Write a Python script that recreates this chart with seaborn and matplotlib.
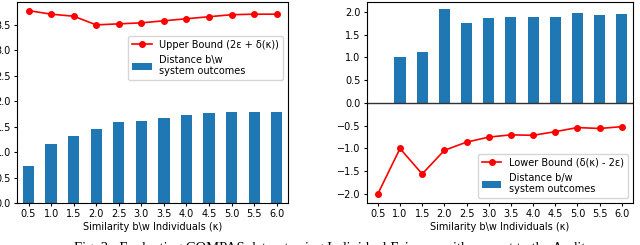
import pandas as pd
import seaborn as sns
import matplotlib.pyplot as plt

kappa = ["0.5", "1.0", "1.5", "2.0", "2.5", "3.0", "3.5", "4.0", "4.5", "5.0", "5.5", "6.0"]

# left panel: upper bound vs distance
upper_bound = [3.78, 3.71, 3.67, 3.50, 3.52, 3.54, 3.58, 3.62, 3.66, 3.70, 3.71, 3.71]
dist_left = [0.73, 1.16, 1.32, 1.45, 1.60, 1.61, 1.68, 1.73, 1.77, 1.78, 1.78, 1.79]

# right panel: lower bound vs distance
lower_bound = [-2.0, -1.0, -1.56, -1.04, -0.86, -0.75, -0.70, -0.71, -0.63, -0.54, -0.56, -0.52]
dist_right = [0.0, 1.00, 1.12, 2.06, 1.75, 1.86, 1.89, 1.88, 1.90, 1.97, 1.94, 1.96]

df_left = pd.DataFrame({"kappa": kappa, "bound": upper_bound, "dist": dist_left})
df_right = pd.DataFrame({"kappa": kappa, "bound": lower_bound, "dist": dist_right})

plt.rcParams["font.size"] = 7
fig = plt.figure(figsize=(6.4, 2.45), dpi=100)
ax1 = fig.add_axes([0.027, 0.171, 0.423, 0.821])
ax2 = fig.add_axes([0.573, 0.171, 0.416, 0.821])

blue = "#1f77b4"


def panel(ax, df, line_label, bar_label, legend_kw):
    sns.barplot(data=df, x="kappa", y="dist", color=blue, saturation=1, width=0.5,
                label=bar_label, ax=ax)
    ax.plot(range(len(df)), df["bound"], color="red", marker="o", markersize=4,
            linewidth=1.2, label=line_label)
    ax.set_xlim(-0.5, len(df) - 0.5)
    ax.set_xlabel("Similarity b\\w Individuals (κ)", fontsize=7, labelpad=2)
    ax.set_ylabel("")
    ax.tick_params(labelsize=7, length=2.5, pad=2)
    h, l = ax.get_legend_handles_labels()
    order = [l.index(line_label), l.index(bar_label)]
    ax.legend([h[i] for i in order], [l[i] for i in order], fontsize=7, **legend_kw)


panel(ax1, df_left, "Upper Bound (2ε + δ(κ))", "Distance b\\w\nsystem outcomes",
      dict(loc="upper right", bbox_to_anchor=(1.0, 0.855)))
ax1.set_ylim(0, 3.95)

panel(ax2, df_right, "Lower Bound (δ(κ) - 2ε)", "Distance b/w\nsystem outcomes",
      dict(loc="lower right"))
ax2.set_ylim(-2.2, 2.22)
ax2.axhline(0, color="#333333", linewidth=1)

fig.text(0.116, 0.012, "Fig. 3 : Evaluating COMPAS dataset using Individual Fairness with respect to the Auditor",
         family="Liberation Serif", fontsize=10.5, va="top")

fig.savefig("out.png", dpi=100)
